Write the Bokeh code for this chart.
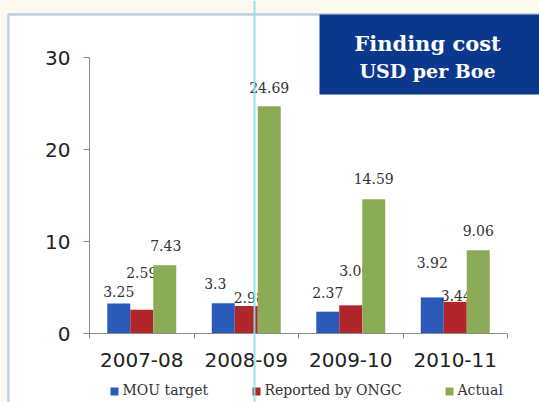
from bokeh.plotting import figure
from bokeh.models import (Range1d, FixedTicker, ColumnDataSource, BoxAnnotation,
                          Label)
from bokeh.core.properties import value
from bokeh.embed import file_html
from bokeh.resources import INLINE

# ---- data ----
categories = ["2007-08", "2008-09", "2009-10", "2010-11"]
mou_target = [3.25, 3.3, 2.37, 3.92]
reported_by_ongc = [2.59, 2.98, 3.06, 3.44]
actual = [7.43, 24.69, 14.59, 9.06]
series_names = ["MOU target", "Reported by ONGC", "Actual"]
y_ticks = [0, 10, 20, 30]
title_line1 = "Finding cost"
title_line2 = "USD per Boe"

# ---- styles / layout ----
colors = ["#2a5bbb", "#b0262b", "#8cab56"]
offsets = [-0.22, 0.0, 0.22]
bar_width = 0.22
# label placement tweaks in pixels (dx right, dy up), per series per category
label_dx = [[0, -8, 0, 0], [0, 3, 4, 1], [1, 0, 0, 0]]
label_dy = [[12, 20, 19, 35], [37, 9, 35, 6], [20, 19, 21, 20]]
legend_x = [110, 252, 445]   # left edge of each legend key, canvas px
legend_y = 387               # top of legend keys, canvas px

W, H = 539, 402
# pixel geometry of the plotting area: x=0 at px 89, 104.5 px per category;
# y=0 at px 333, 9.2 px per unit
X0, XS = 89.0, 104.5
Y0, YS = 333.0, 9.2

p = figure(width=W, height=H, output_backend="svg", toolbar_location=None,
           x_range=Range1d(-X0 / XS, (W - X0) / XS),
           y_range=Range1d(-(H - Y0) / YS, Y0 / YS),
           min_border=0, min_border_left=0, min_border_right=0,
           min_border_top=0, min_border_bottom=0)
p.outline_line_color = None
p.grid.visible = False
p.border_fill_color = "#fcf9ee"
p.background_fill_color = "#fcf9ee"


def canvas_box(**kw):
    return BoxAnnotation(left_units="canvas", right_units="canvas",
                         top_units="canvas", bottom_units="canvas", **kw)


# white panel inside the blue frame, and the blue frame itself
p.add_layout(canvas_box(left=8, right=W + 20, top=14, bottom=H + 20,
                        fill_color="white", fill_alpha=1, line_color=None,
                        level="underlay"))
p.add_layout(canvas_box(left=8, right=W + 20, top=14, bottom=H + 20,
                        fill_alpha=0, line_color="#3862b6", line_width=2.5,
                        level="underlay"))

series = [mou_target, reported_by_ongc, actual]
for s, vals in enumerate(series):
    xs = [i + 0.5 + offsets[s] for i in range(len(categories))]
    src = ColumnDataSource(dict(x=xs, top=vals,
                                lab=[f"{v:g}" for v in vals],
                                dx=label_dx[s], dy=[-d for d in label_dy[s]]))
    p.vbar(x="x", top="top", width=bar_width, source=src,
           fill_color=colors[s], line_color=None)
    p.text(x="x", y="top", text="lab", source=src, x_offset="dx", y_offset="dy",
           text_align="center", text_baseline="middle",
           text_font=value("DejaVu Serif"), text_font_size="14px",
           text_color="#333333")
    # legend entry: colour key + name
    p.add_layout(canvas_box(left=legend_x[s], right=legend_x[s] + 8,
                            top=legend_y, bottom=legend_y + 8,
                            fill_color=colors[s], fill_alpha=1,
                            line_color=None))
    p.add_layout(Label(x=legend_x[s] + 12, y=legend_y + 2,
                       x_units="canvas", y_units="canvas",
                       text=series_names[s], text_align="left",
                       text_baseline="alphabetic", text_font="DejaVu Serif",
                       text_font_size="14px", text_color="#333333"))

# axes, placed at the data origin inside the frame
xa = p.xaxis[0]
xa.fixed_location = 0
xa.bounds = (-0.057, len(categories))
xa.ticker = FixedTicker(ticks=[i + 0.5 for i in range(len(categories))],
                        minor_ticks=list(range(len(categories) + 1)))
xa.major_label_overrides = {i + 0.5: c for i, c in enumerate(categories)}
xa.major_tick_out = 0
xa.major_tick_in = 0
xa.minor_tick_out = 5
xa.minor_tick_in = 0
xa.axis_line_color = "#8a8a8a"
xa.minor_tick_line_color = "#8a8a8a"
xa.major_label_standoff = 14
xa.major_label_text_font = "DejaVu Sans"
xa.major_label_text_font_size = "20px"
xa.major_label_text_color = "#222222"

ya = p.yaxis[0]
ya.fixed_location = 0
ya.ticker = FixedTicker(ticks=y_ticks, minor_ticks=[])
ya.bounds = (y_ticks[0], y_ticks[-1])
ya.major_tick_out = 6
ya.major_tick_in = 0
ya.minor_tick_out = 0
ya.axis_line_color = "#8a8a8a"
ya.major_tick_line_color = "#8a8a8a"
ya.major_label_standoff = 13
ya.major_label_text_font = "DejaVu Sans"
ya.major_label_text_font_size = "20px"
ya.major_label_text_color = "#222222"

# title box
p.add_layout(canvas_box(left=319, right=W + 20, top=14, bottom=94,
                        fill_color="#0b388c", fill_alpha=1, line_color=None))
p.add_layout(Label(x=427, y=43, x_units="canvas", y_units="canvas",
                   text=title_line1, text_align="center",
                   text_baseline="alphabetic", text_font="DejaVu Serif",
                   text_font_style="bold", text_font_size="21px",
                   text_color="white"))
p.add_layout(Label(x=427, y=70, x_units="canvas", y_units="canvas",
                   text=title_line2, text_align="center",
                   text_baseline="alphabetic", text_font="DejaVu Serif",
                   text_font_style="bold", text_font_size="19px",
                   text_color="white"))

# thin cyan guide line seen in the picture
p.add_layout(canvas_box(left=253, right=255, top=0, bottom=H,
                        fill_color="#86e3ea", fill_alpha=0.9, line_color=None,
                        level="overlay"))

open("out.html", "w").write(file_html(p, INLINE))
